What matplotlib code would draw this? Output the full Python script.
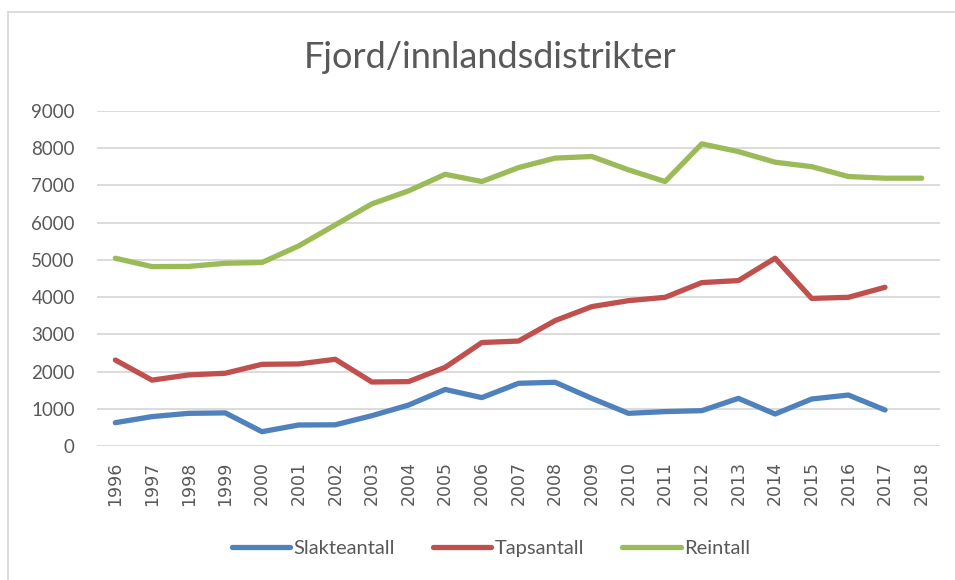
import matplotlib.pyplot as plt
from matplotlib.lines import Line2D

# ---------------------------------------------
# DATA
# ---------------------------------------------
years = [str(y) for y in range(1996, 2019)]

slakteantall = [627, 790, 878, 890, 385, 565, 570, 815, 1100, 1520, 1300,
                1685, 1712, 1280, 878, 925, 950, 1280, 860, 1263, 1370, 968]
tapsantall = [2310, 1770, 1910, 1955, 2195, 2205, 2330, 1720, 1730, 2115, 2780,
              2820, 3370, 3745, 3905, 3995, 4390, 4445, 5045, 3965, 3995, 4265]
reintall = [5045, 4820, 4825, 4910, 4930, 5375, 5940, 6505, 6855, 7300, 7105,
            7480, 7735, 7778, 7420, 7105, 8118, 7910, 7625, 7505, 7240, 7195, 7195]

series_names = ["Slakteantall", "Tapsantall", "Reintall"]
series_colors = ["#4f81bd", "#c0504d", "#9bbb59"]
yticks = [0, 1000, 2000, 3000, 4000, 5000, 6000, 7000, 8000, 9000]

TXT = "#595959"
GRID = "#d9d9d9"
FONT = ["Lato", "DejaVu Sans"]

# ---------------------------------------------
# FIGURE
# ---------------------------------------------
fig = plt.figure(figsize=(9.55, 5.8), dpi=100)
ax = fig.add_axes([0.1016, 0.231, 0.8827, 0.5776])

# chart frame (left + top edge visible)
fig.add_artist(Line2D([0.0084, 0.0084], [0, 1 - 12 / 580], color=GRID, lw=1.3))
fig.add_artist(Line2D([0.0084, 1], [1 - 12 / 580, 1 - 12 / 580], color=GRID, lw=1.3))

x = list(range(len(years)))
for data, name, col in zip([slakteantall, tapsantall, reintall], series_names, series_colors):
    ax.plot(x[:len(data)], data, color=col, lw=3.8, label=name,
            solid_capstyle="round", solid_joinstyle="round", zorder=3)

ax.set_xlim(-0.5, len(years) - 0.5)
ax.set_ylim(0, 9000)
ax.set_yticks(yticks)
ax.set_yticklabels([str(v) for v in yticks], fontsize=13.5, color=TXT, family=FONT)
ax.set_xticks(x)
ax.set_xticklabels(years, rotation=90, fontsize=12.5, color=TXT,
                   family="DejaVu Sans")
ax.tick_params(axis="both", length=0)
ax.tick_params(axis="y", pad=16)
ax.tick_params(axis="x", pad=11)

ax.grid(axis="y", color=GRID, lw=1.3, zorder=0)
for s in ax.spines.values():
    s.set_visible(False)

fig.text(0.513, 0.9, "Fjord/innlandsdistrikter", ha="center", va="center",
         fontsize=26, color=TXT, family=FONT)

leg = fig.legend(loc="center", bbox_to_anchor=(0.514, 0.055), ncol=3, frameon=False,
                 handlelength=2.9, columnspacing=1.9, handletextpad=0.15,
                 prop={"family": FONT, "size": 14.5})
for t in leg.get_texts():
    t.set_color(TXT)

fig.savefig("out.png", dpi=100)
